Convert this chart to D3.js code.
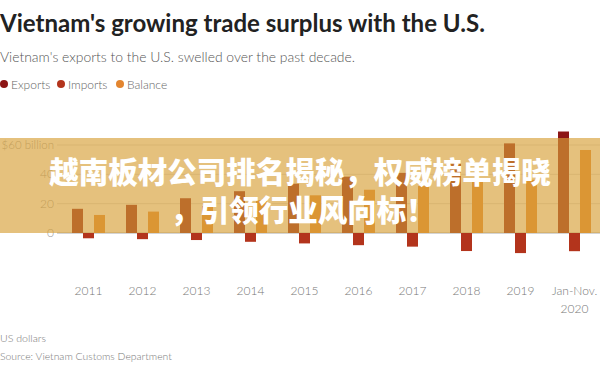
<!DOCTYPE html>
<head>
  <meta charset="utf-8">
  <script src="https://d3js.org/d3.v7.min.js"></script>
  <style>
body { margin: 0; background: white; }
svg { display: block; background-color: white; font-family: 'Lato', 'Liberation Sans', sans-serif; }
  </style>
</head>
<body>
<svg width="600" height="373"></svg>
<script>
// values, billions of US dollars
var years = ["2011", "2012", "2013", "2014", "2015", "2016", "2017", "2018", "2019", "Jan-Nov.|2020"];
var exports_ = [16.5, 19.2, 23.7, 28.5, 33.6, 38.4, 41.0, 47.3, 61.1, 69.2];
var imports_ = [3.6, 4.2, 4.8, 6.0, 7.1, 8.3, 9.3, 12.3, 13.7, 12.4];
var balance = [12.3, 14.6, 18.4, 22.3, 25.7, 29.5, 32.0, 35.0, 36.3, 56.6];
var yTicks = [0, 20, 40, 60];
var series = ["Exports", "Imports", "Balance"];
var colors = {Exports: "#8c1515", Imports: "#b3341c", Balance: "#e3852f"};

var svg = d3.select("svg");

var x0 = d3.scaleBand().domain(years).range([61.5, 601.5]);
var x1 = d3.scaleBand().domain(series).range([10.5, 43.5]);
var y = d3.scaleLinear().domain([0, 60]).range([233, 145]);

// title block
function fitText(sel, w) {
  var len = sel.node().getComputedTextLength();
  var fs = parseFloat(sel.attr("font-size"));
  sel.attr("font-size", (fs * w / len).toFixed(2));
}
var title = svg.append("text").attr("x", 0).attr("y", 32)
  .attr("font-size", 22).attr("font-weight", 700).attr("fill", "#222")
  .text("Vietnam's growing trade surplus with the U.S.");
fitText(title, 485);
var sub = svg.append("text").attr("x", 0).attr("y", 62)
  .attr("font-size", 13).attr("font-weight", 300).attr("fill", "#555")
  .text("Vietnam's exports to the U.S. swelled over the past decade.");
fitText(sub, 355);

// legend
var lx = [4, 61, 120];
var leg = svg.selectAll(".leg").data(series).enter().append("g")
  .attr("transform", function(d, i) { return "translate(" + lx[i] + ",84)"; });
leg.append("circle").attr("r", 4).attr("fill", function(d) { return colors[d]; });
leg.append("text").attr("x", 7).attr("y", 4.5).attr("font-size", 12).attr("font-weight", 300).attr("fill", "#666")
  .text(function(d) { return d; });

// grid + y labels
svg.selectAll(".grid").data(yTicks).enter().append("line")
  .attr("x1", 57).attr("x2", 600)
  .attr("y1", function(d) { return y(d); }).attr("y2", function(d) { return y(d); })
  .attr("stroke", function(d) { return d == 0 ? "#aaa" : "#ddd"; });
svg.selectAll(".ylab").data(yTicks).enter().append("text")
  .attr("x", 54).attr("y", function(d) { return y(d) + 4; })
  .attr("text-anchor", "end").attr("font-size", function(d) { return d == 60 ? 11.5 : 12; })
  .attr("font-weight", 300).attr("fill", "#999")
  .text(function(d) { return d == 60 ? "$60 billion" : d; });

// bars
var rows = years.map(function(yr, i) {
  return {year: yr, vals: [
    {key: "Exports", v: exports_[i]},
    {key: "Imports", v: -imports_[i]},
    {key: "Balance", v: balance[i]}]};
});
var g = svg.selectAll(".yr").data(rows).enter().append("g")
  .attr("transform", function(d) { return "translate(" + x0(d.year) + ",0)"; });
g.selectAll("rect").data(function(d) { return d.vals; }).enter().append("rect")
  .attr("x", function(d) { return x1(d.key); })
  .attr("width", x1.bandwidth())
  .attr("y", function(d) { return y(Math.max(0, d.v)); })
  .attr("height", function(d) { return Math.abs(y(d.v) - y(0)); })
  .attr("fill", function(d) { return colors[d.key]; });

// x labels
var xl = svg.selectAll(".xlab").data(years).enter().append("text")
  .attr("x", function(d) { return x0(d) + x0.bandwidth() / 2; })
  .attr("y", 295).attr("text-anchor", "middle").attr("font-size", 12)
  .attr("font-weight", 300).attr("fill", "#777");
xl.each(function(d) {
  var parts = d.split("|");
  var t = d3.select(this);
  parts.forEach(function(p, k) {
    t.append("tspan").attr("x", t.attr("x")).attr("dy", k ? 18 : 0).text(p);
  });
});

// footer
var f1 = svg.append("text").attr("x", 0).attr("y", 342).attr("font-size", 11).attr("font-weight", 300)
  .attr("fill", "#777").text("US dollars");
fitText(f1, 46);
var f2 = svg.append("text").attr("x", 0).attr("y", 360).attr("font-size", 11).attr("font-weight", 300)
  .attr("fill", "#777").text("Source: Vietnam Customs Department");
fitText(f2, 172);

// watermark band over the chart
svg.append("rect").attr("x", 0).attr("y", 138).attr("width", 600).attr("height", y(0) - 138)
  .attr("fill", "#d7a037").attr("opacity", 0.65);
var wm = ["越南板材公司排名揭秘，权威榜单揭晓", "，引领行业风向标！"];
svg.selectAll(".wm").data(wm).enter().append("text")
  .attr("x", function(d, i) { return i ? 303 : 300; })
  .attr("y", function(d, i) { return 183 + i * 38; })
  .attr("text-anchor", "middle").attr("font-size", 29.5).attr("font-weight", 900)
  .attr("font-family", "'Noto Sans CJK SC', sans-serif").attr("fill", "white")
  .text(function(d) { return d; });
</script>
</body>
</html>
